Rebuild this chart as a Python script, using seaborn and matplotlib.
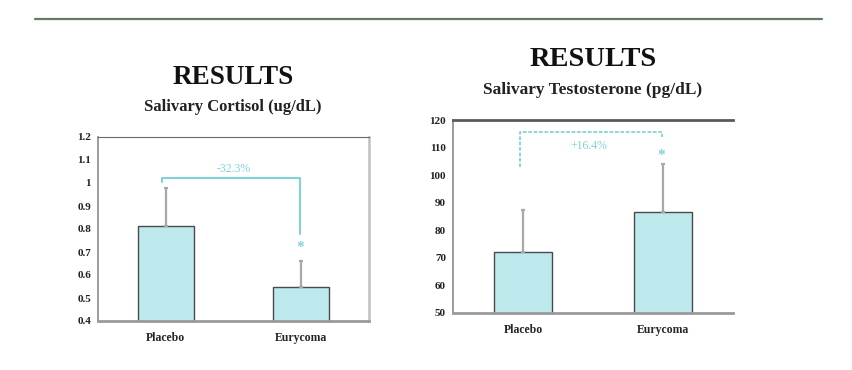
import pandas as pd
import matplotlib
matplotlib.use('Agg')
import matplotlib.pyplot as plt
import seaborn as sns
from matplotlib.lines import Line2D

sns.set_style('white')
plt.rcParams['font.family'] = ['Liberation Serif', 'DejaVu Serif']

# data
groups = ['Placebo', 'Eurycoma']
cortisol = [0.815, 0.55]
cortisol_sd = [0.165, 0.11]
testo = [72.3, 86.6]
testo_sd = [15.0, 17.6]
cortisol_ticks = [0.4, 0.5, 0.6, 0.7, 0.8, 0.9, 1, 1.1, 1.2]
cortisol_ticklabels = ['0.4', '0.5', '0.6', '0.7', '0.8', '0.9', '1', '1.1', '1.2']
testo_ticks = [50, 60, 70, 80, 90, 100, 110, 120]

bar_col = '#bde8ec'
edge_col = '#4a4a4a'
acc_col = '#7fd3d9'
err_col = '#a8a8a8'

fig = plt.figure(figsize=(8.52, 3.70), dpi=100)

# header rule
fig.add_artist(Line2D([35 / 852, 822 / 852], [1 - 18.5 / 370] * 2,
                      color='#5f7d60', lw=1.6))


def draw_panel(ax, vals, sds, ticks, ylim):
    df = pd.DataFrame({'grp': groups, 'val': vals})
    sns.barplot(data=df, x='grp', y='val', ax=ax, color=bar_col,
                saturation=1, width=0.41, edgecolor=edge_col, linewidth=1.0,
                errorbar=None)
    ax.errorbar([0, 1], vals, yerr=[[0, 0], sds], fmt='none', ecolor=err_col,
                elinewidth=1.6, capsize=1.2, capthick=1.6, zorder=1)
    ax.set_xlim(-0.5, 1.5)
    ax.set_ylim(*ylim)
    ax.set_yticks(ticks)
    ax.set_xlabel('')
    ax.set_ylabel('')
    ax.tick_params(axis='y', direction='out', length=3, width=1, pad=2,
                   labelsize=8, colors='#222222')
    ax.tick_params(axis='x', length=0, pad=8, labelsize=8.5)
    for lab in ax.get_xticklabels() + ax.get_yticklabels():
        lab.set_fontweight('bold')
        lab.set_fontstretch('condensed')
    ax.spines['left'].set_color('#8a8a8a')
    ax.spines['left'].set_linewidth(1.2)
    ax.spines['bottom'].set_color('#9a9a9a')
    ax.spines['bottom'].set_linewidth(2)
    ax.spines['bottom'].set_linestyle((0, (2, 1)))


# left panel: cortisol
ax1 = fig.add_axes([98 / 852, 1 - 321 / 370, 271 / 852, 184 / 370])
draw_panel(ax1, cortisol, cortisol_sd, cortisol_ticks, (0.4, 1.2))
ax1.set_yticklabels(cortisol_ticklabels, fontweight='bold')
ax1.spines['top'].set_color('#6a6a6a')
ax1.spines['top'].set_linestyle((0, (2, 1)))
ax1.spines['right'].set_color('#c0c0c0')
ax1.spines['right'].set_linewidth(1.8)
ax1.plot([-0.03, -0.03, 0.99, 0.99], [1.005, 1.02, 1.02, 0.78],
         color=acc_col, lw=1.5, clip_on=False)
ax1.text(0.5, 1.06, '-32.3%', color=acc_col, ha='center', va='center',
         fontsize=8.5, fontstretch='condensed')
ax1.text(0.99, 0.72, '*', color=acc_col, ha='center', va='center',
         fontsize=11, fontweight='bold')
fig.text(233 / 852, 1 - 78 / 370, 'RESULTS', ha='center', va='center',
         fontsize=19.5, fontweight='bold', color='#111111')
fig.text(233 / 852, 1 - 107 / 370, 'Salivary Cortisol (ug/dL)', ha='center',
         va='center', fontsize=12, fontweight='bold', color='#222222')

# right panel: testosterone
ax2 = fig.add_axes([453 / 852, 1 - 313 / 370, 280 / 852, 193 / 370])
draw_panel(ax2, testo, testo_sd, testo_ticks, (50, 120))
ax2.spines['top'].set_color('#5a5a5a')
ax2.spines['top'].set_linewidth(2)
ax2.spines['right'].set_visible(False)
ax2.plot([-0.02, -0.02, 0.99, 0.99], [103, 115.6, 115.6, 114],
         color=acc_col, lw=1.3, ls=(0, (2, 1)), clip_on=False)
ax2.text(0.47, 110.6, '+16.4%', color=acc_col, ha='center', va='center',
         fontsize=8.5, fontstretch='condensed')
ax2.text(0.99, 107.2, '*', color=acc_col, ha='center', va='center',
         fontsize=11, fontweight='bold')
fig.text(593 / 852, 1 - 60 / 370, 'RESULTS', ha='center', va='center',
         fontsize=20.5, fontweight='bold', color='#111111')
fig.text(593 / 852, 1 - 90 / 370, 'Salivary Testosterone (pg/dL)',
         ha='center', va='center', fontsize=12.5, fontweight='bold',
         color='#222222')

fig.savefig('out.png', dpi=100, facecolor='white')
